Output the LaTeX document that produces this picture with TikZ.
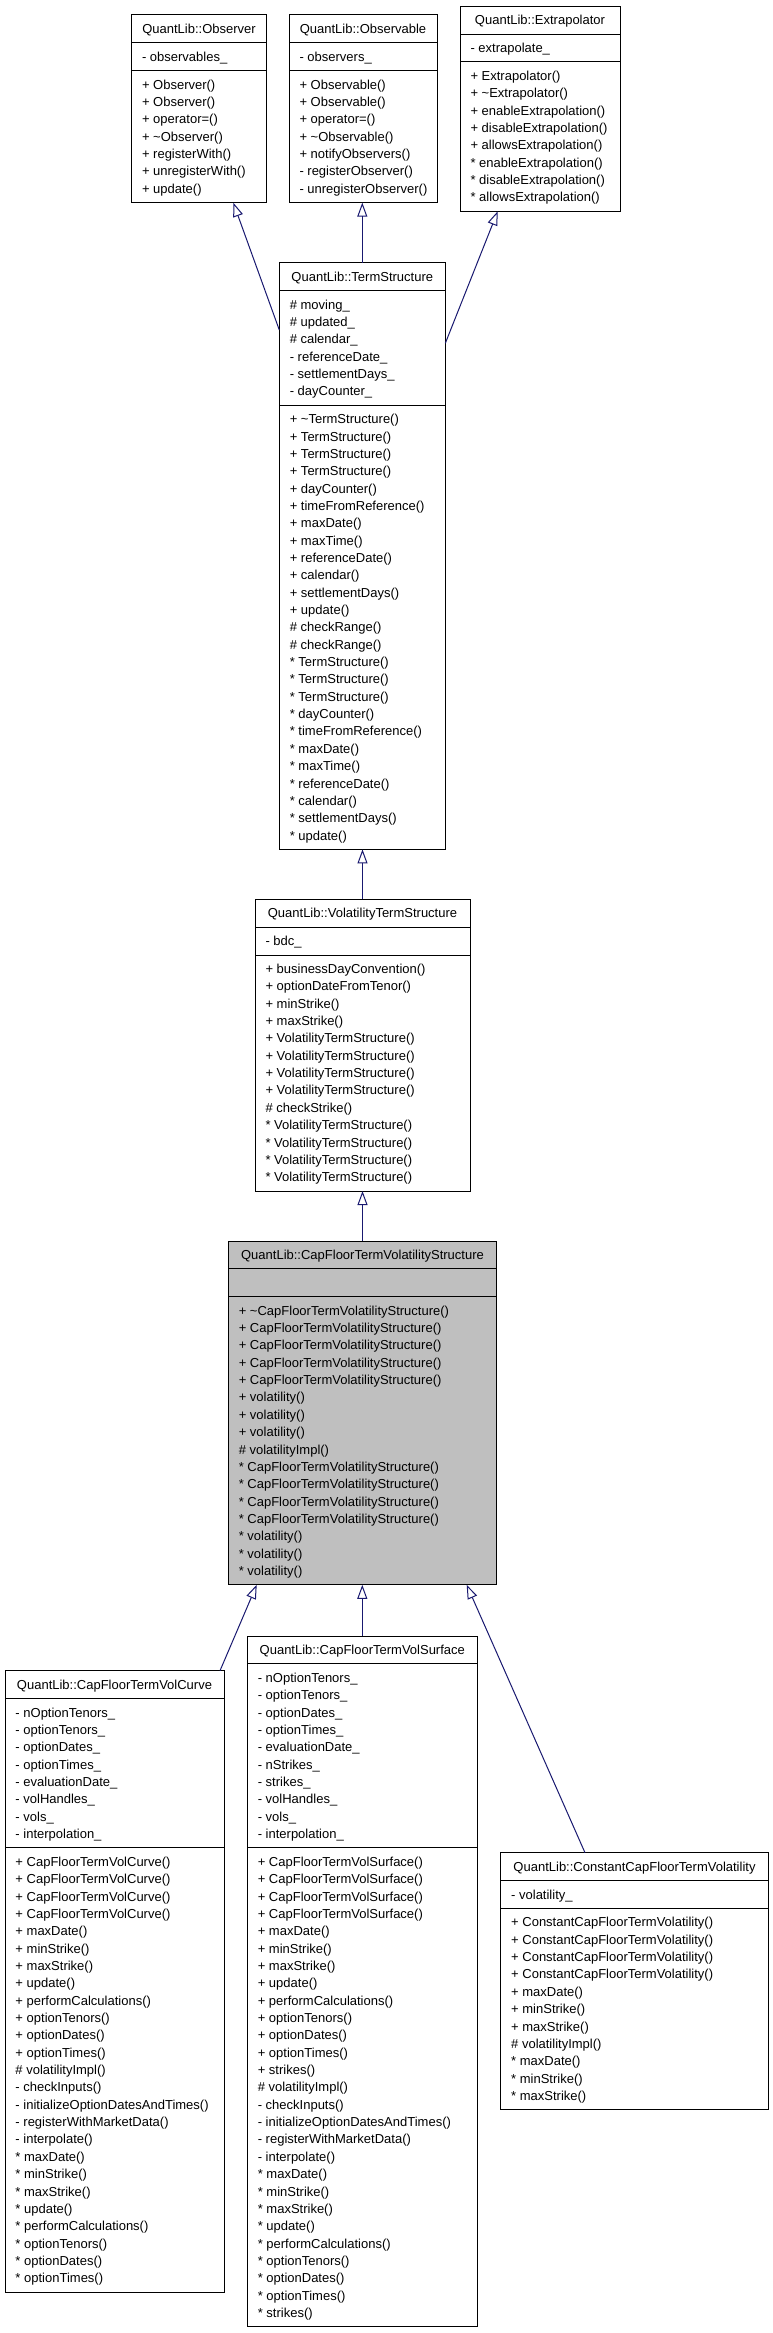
\documentclass[tikz,border=0pt]{standalone}
\usepackage{fontspec}
\setmainfont{Liberation Sans}
\usetikzlibrary{arrows.meta}
\definecolor{midnight}{RGB}{25,25,112}
\definecolor{cgray}{RGB}{191,191,191}
\tikzset{
  classnode/.style={draw=black, line width=1pt, anchor=north west, inner sep=0pt, outer sep=0pt},
  classline/.style={draw=black, line width=1pt},
  rowtext/.style={inner sep=0pt, anchor=base, font=\fontsize{13}{16}\selectfont},
  inh/.style={draw=midnight, line width=1pt, -{Triangle[open,length=14pt,width=10pt]}}
}
\newcommand\mycountitems[2]{\gdef#1{0}\foreach \myt [count=\mycnt] in {#2} {\xdef#1{\mycnt}}}
\newcommand\classbox[8]{%
  \mycountitems\myNA{#7}\mycountitems\myNM{#8}%
  \pgfmathsetmacro\myHA{\myNA*17.35+10.5}%
  \pgfmathsetmacro\myHM{\myNM*17.35+10.5}%
  \pgfmathsetmacro\myHH{27.85+\myHA+\myHM}%
  \pgfmathsetmacro\myYS{27.85+\myHA}%
  \node[classnode,fill=#5,minimum width=#4pt,minimum height=\myHH pt] (#1) at (#2,#3) {};
  \draw[classline] ([yshift=-27.85pt]#1.north west) -- ([yshift=-27.85pt]#1.north east);
  \draw[classline] ([yshift=-\myYS pt]#1.north west) -- ([yshift=-\myYS pt]#1.north east);
  \node[rowtext] (#1-title) at ([yshift=-18.4pt]#1.north) {#6};
  \foreach \myt [count=\myi from 0] in {#7} {%
    \pgfmathsetmacro\myyy{46.35+\myi*17.35}%
    \node[rowtext,anchor=base west] (#1-a\myi) at ([xshift=10.3pt,yshift=-\myyy pt]#1.north west) {\myt};}
  \foreach \myt [count=\myi from 0] in {#8} {%
    \pgfmathsetmacro\myyy{\myYS+18.5+\myi*17.35}%
    \node[rowtext,anchor=base west] (#1-m\myi) at ([xshift=10.3pt,yshift=-\myyy pt]#1.north west) {\myt};}
}
\begin{document}
\begin{tikzpicture}[x=1pt,y=-1pt]
\useasboundingbox (0,0) rectangle (773,2333);
\fill[white] (0,0) rectangle (773,2333);

\classbox{obs}{131.5}{15}{135}{white}{QuantLib::Observer}
 {- observables\_}
 {+ Observer(), + Observer(), + operator=(), + \textasciitilde{}Observer(), + registerWith(), + unregisterWith(), + update()}

\classbox{obl}{289}{15}{148}{white}{QuantLib::Observable}
 {- observers\_}
 {+ Observable(), + Observable(), + operator=(), + \textasciitilde{}Observable(), + notifyObservers(), - registerObserver(), - unregisterObserver()}

\classbox{ext}{460}{6.3}{160}{white}{QuantLib::Extrapolator}
 {- extrapolate\_}
 {+ Extrapolator(), + \textasciitilde{}Extrapolator(), + enableExtrapolation(), + disableExtrapolation(), + allowsExtrapolation(), * enableExtrapolation(), * disableExtrapolation(), * allowsExtrapolation()}

\classbox{ts}{279.3}{262.7}{166}{white}{QuantLib::TermStructure}
 {\# moving\_, \# updated\_, \# calendar\_, - referenceDate\_, - settlementDays\_, - dayCounter\_}
 {+ \textasciitilde{}TermStructure(), + TermStructure(), + TermStructure(), + TermStructure(), + dayCounter(), + timeFromReference(), + maxDate(), + maxTime(), + referenceDate(), + calendar(), + settlementDays(), + update(), \# checkRange(), \# checkRange(), * TermStructure(), * TermStructure(), * TermStructure(), * dayCounter(), * timeFromReference(), * maxDate(), * maxTime(), * referenceDate(), * calendar(), * settlementDays(), * update()}

\classbox{vts}{255}{899.3}{215}{white}{QuantLib::VolatilityTermStructure}
 {- bdc\_}
 {+ businessDayConvention(), + optionDateFromTenor(), + minStrike(), + maxStrike(), + VolatilityTermStructure(), + VolatilityTermStructure(), + VolatilityTermStructure(), + VolatilityTermStructure(), \# checkStrike(), * VolatilityTermStructure(), * VolatilityTermStructure(), * VolatilityTermStructure(), * VolatilityTermStructure()}

\classbox{cfvs}{228.3}{1241}{268.4}{cgray}{QuantLib::CapFloorTermVolatilityStructure}
 {\mbox{}}
 {+ \textasciitilde{}CapFloorTermVolatilityStructure(), + CapFloorTermVolatilityStructure(), + CapFloorTermVolatilityStructure(), + CapFloorTermVolatilityStructure(), + CapFloorTermVolatilityStructure(), + volatility(), + volatility(), + volatility(), \# volatilityImpl(), * CapFloorTermVolatilityStructure(), * CapFloorTermVolatilityStructure(), * CapFloorTermVolatilityStructure(), * CapFloorTermVolatilityStructure(), * volatility(), * volatility(), * volatility()}

\classbox{crv}{5}{1670.7}{219}{white}{QuantLib::CapFloorTermVolCurve}
 {- nOptionTenors\_, - optionTenors\_, - optionDates\_, - optionTimes\_, - evaluationDate\_, - volHandles\_, - vols\_, - interpolation\_}
 {+ CapFloorTermVolCurve(), + CapFloorTermVolCurve(), + CapFloorTermVolCurve(), + CapFloorTermVolCurve(), + maxDate(), + minStrike(), + maxStrike(), + update(), + performCalculations(), + optionTenors(), + optionDates(), + optionTimes(), \# volatilityImpl(), - checkInputs(), - initializeOptionDatesAndTimes(), - registerWithMarketData(), - interpolate(), * maxDate(), * minStrike(), * maxStrike(), * update(), * performCalculations(), * optionTenors(), * optionDates(), * optionTimes()}

\classbox{srf}{247.3}{1636}{230}{white}{QuantLib::CapFloorTermVolSurface}
 {- nOptionTenors\_, - optionTenors\_, - optionDates\_, - optionTimes\_, - evaluationDate\_, - nStrikes\_, - strikes\_, - volHandles\_, - vols\_, - interpolation\_}
 {+ CapFloorTermVolSurface(), + CapFloorTermVolSurface(), + CapFloorTermVolSurface(), + CapFloorTermVolSurface(), + maxDate(), + minStrike(), + maxStrike(), + update(), + performCalculations(), + optionTenors(), + optionDates(), + optionTimes(), + strikes(), \# volatilityImpl(), - checkInputs(), - initializeOptionDatesAndTimes(), - registerWithMarketData(), - interpolate(), * maxDate(), * minStrike(), * maxStrike(), * update(), * performCalculations(), * optionTenors(), * optionDates(), * optionTimes(), * strikes()}

\classbox{cst}{500.7}{1852.7}{267.6}{white}{QuantLib::ConstantCapFloorTermVolatility}
 {- volatility\_}
 {+ ConstantCapFloorTermVolatility(), + ConstantCapFloorTermVolatility(), + ConstantCapFloorTermVolatility(), + ConstantCapFloorTermVolatility(), + maxDate(), + minStrike(), + maxStrike(), \# volatilityImpl(), * maxDate(), * minStrike(), * maxStrike()}

% inheritance connectors
\draw[inh] ([yshift=-67.3pt]ts.north west) -- ([xshift=101.8pt]obs.south west);
\draw[inh] (ts.north) -- (ts.north |- obl.south);
\draw[inh] ([yshift=-80.6pt]ts.north east) -- ([xshift=37.7pt]ext.south west);
\draw[inh] (vts.north) -- (vts.north |- ts.south);
\draw[inh] (cfvs.north) -- (cfvs.north |- vts.south);
\draw[inh] ([xshift=-4pt]crv.north east) -- ([xshift=28.4pt]cfvs.south west);
\draw[inh] (srf.north) -- (srf.north |- cfvs.south);
\draw[inh] ([xshift=84.3pt]cst.north west) -- ([xshift=-30pt]cfvs.south east);
\end{tikzpicture}
\end{document}
